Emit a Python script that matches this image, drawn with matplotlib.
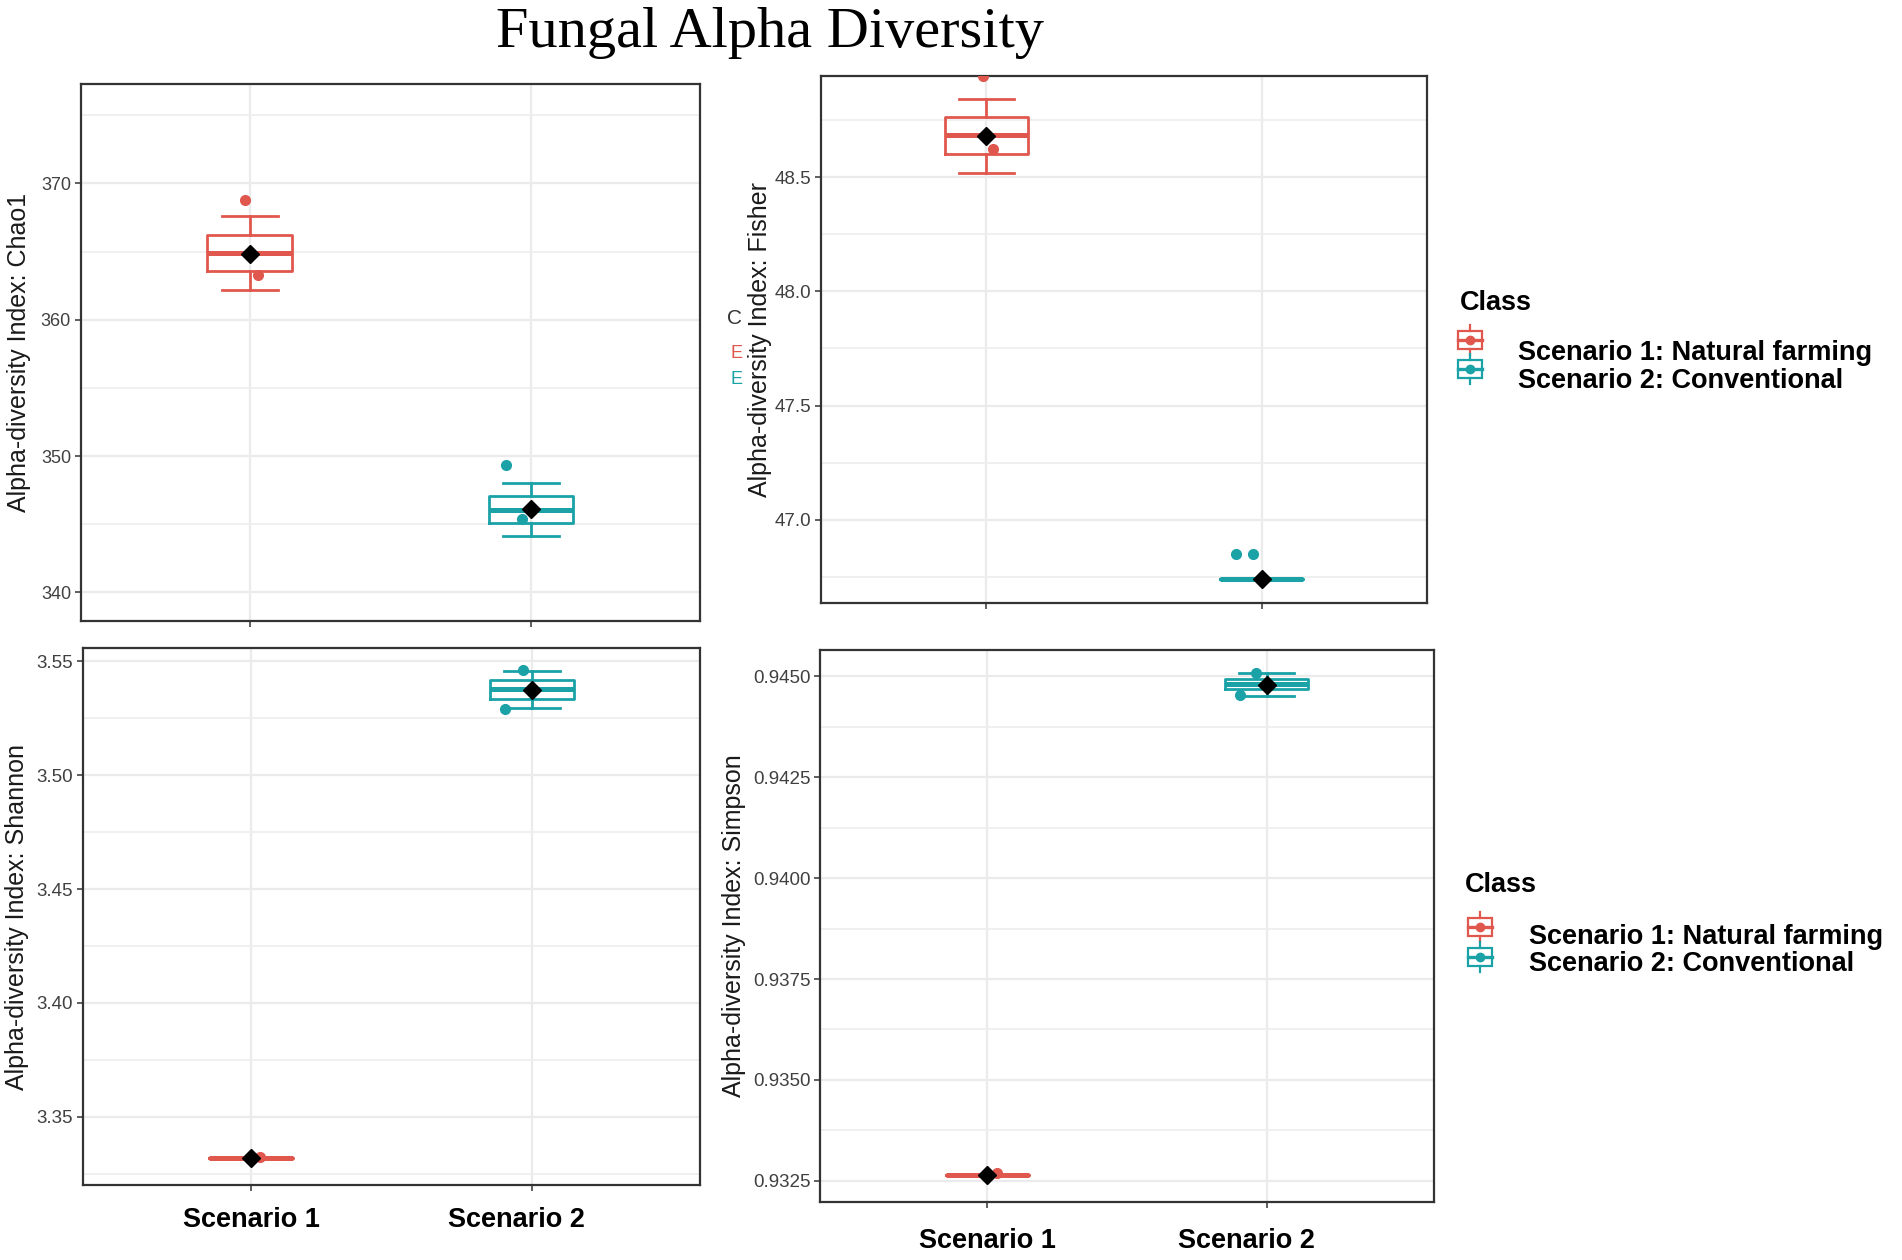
import numpy as np
import matplotlib
matplotlib.use('Agg')
from matplotlib import pyplot as plt
from matplotlib.lines import Line2D
from matplotlib.patches import Rectangle
from matplotlib.ticker import FormatStrFormatter
from matplotlib.transforms import ScaledTranslation

W, H = 1902, 1260

categories = ['Scenario 1', 'Scenario 2']
class_labels = ['Scenario 1: Natural farming', 'Scenario 2: Conventional']
colors = ['#E0574E', '#1AA2A7']

# box stats per class: [whislo, q1, median, q3, whishi]
chao1_box = [[362.15, 363.55, 364.9, 366.2, 367.59],
             [344.12, 345.1, 346.03, 347.06, 348.04]]
chao1_mean = [364.85, 346.08]
chao1_pts = [[368.77, 363.25], [349.35, 345.35]]
chao1_jit = [[-0.015, 0.03], [-0.091, -0.033]]

fisher_box = [[48.518, 48.601, 48.685, 48.762, 48.844],
              [46.738, 46.738, 46.738, 46.738, 46.738]]
fisher_mean = [48.681, 46.738]
fisher_pts = [[48.945, 48.624], [46.849, 46.849]]
fisher_jit = [[-0.013, 0.025], [-0.092, -0.032]]

shannon_box = [[3.3317, 3.3317, 3.3317, 3.3317, 3.3317],
               [3.5296, 3.5334, 3.5380, 3.5417, 3.5457]]
shannon_mean = [3.3317, 3.5376]
shannon_pts = [[3.3321], [3.5461, 3.5293]]
shannon_jit = [[0.031], [-0.03, -0.094]]

simpson_box = [[0.93265, 0.93265, 0.93265, 0.93265, 0.93265],
               [0.944505, 0.944671, 0.944802, 0.944918, 0.945067]]
simpson_mean = [0.93265, 0.944777]
simpson_pts = [[0.93269], [0.945067, 0.94453]]
simpson_jit = [[0.035], [-0.038, -0.095]]

plt.rcParams['font.family'] = ['Liberation Sans', 'DejaVu Sans']

fig = plt.figure(figsize=(W / 100, H / 100), dpi=100)


def fx(x):
    return x / W


def fy(y):
    return 1 - y / H


def add_axes_px(left, top, right, bottom):
    return fig.add_axes([fx(left), fy(bottom), (right - left) / W, (bottom - top) / H])


def draw_panel(ax, box, means, pts, jit, ylim, major, minor, fmt, ylabel,
               label_x, tick_fs, show_x):
    for i in range(2):
        lo, q1, med, q3, hi = box[i]
        st = [dict(whislo=lo, q1=q1, med=med, q3=q3, whishi=hi, fliers=[])]
        lp = dict(color=colors[i], lw=2.0)
        ax.bxp(st, positions=[i + 1], widths=0.3, capwidths=[0.2], showfliers=False,
               boxprops=lp, whiskerprops=lp, capprops=lp,
               medianprops=dict(color=colors[i], lw=3.6), manage_ticks=False)
        xs = i + 1 + np.array(jit[i])
        ax.plot(xs, pts[i], 'o', color=colors[i], ms=7, zorder=3)
        ax.plot(i + 1, means[i], 'D', color='black', ms=9.5, zorder=5)
    ax.set_xlim(0.4, 2.6)
    ax.set_ylim(*ylim)
    ax.set_xticks([1, 2])
    ax.set_yticks(major)
    ax.set_yticks(minor, minor=True)
    ax.yaxis.set_major_formatter(FormatStrFormatter(fmt))
    ax.set_axisbelow(True)
    ax.grid(which='major', color='#EBEBEB', lw=1.6)
    ax.grid(which='minor', axis='y', color='#EFEFEF', lw=1.3)
    for s in ax.spines.values():
        s.set_color('#333333')
        s.set_linewidth(1.6)
    ax.tick_params(which='major', direction='out', length=4, width=1.1, color='#333333',
                   labelsize=tick_fs, labelcolor='#404040', pad=3)
    ax.tick_params(which='minor', length=0)
    ax.set_ylabel(ylabel, fontsize=18, color='#1A1A1A')
    ax.yaxis.set_label_coords(label_x, 0.5)
    if show_x:
        ax.set_xticklabels(categories)
    else:
        ax.tick_params(axis='x', labelbottom=False)


ax1 = add_axes_px(80.8, 83.8, 700, 621)
draw_panel(ax1, chao1_box, chao1_mean, chao1_pts, chao1_jit, (337.9, 377.3),
           [340, 350, 360, 370], [345, 355, 365, 375], '%d',
           'Alpha-diversity Index: Chao1', -0.080, 13, False)

ax2 = add_axes_px(821, 75.7, 1427, 603)
draw_panel(ax2, fisher_box, fisher_mean, fisher_pts, fisher_jit, (46.635, 48.945),
           [47.0, 47.5, 48.0, 48.5], [46.75, 47.25, 47.75, 48.25, 48.75], '%.1f',
           'Alpha-diversity Index: Fisher', -0.081, 13.5, False)

ax3 = add_axes_px(83, 648, 700, 1185)
draw_panel(ax3, shannon_box, shannon_mean, shannon_pts, shannon_jit, (3.320, 3.5559),
           [3.35, 3.40, 3.45, 3.50, 3.55], [3.325, 3.375, 3.425, 3.475, 3.525], '%.2f',
           'Alpha-diversity Index: Shannon', -0.087, 13.5, True)

ax4 = add_axes_px(820, 650, 1434, 1202)
draw_panel(ax4, simpson_box, simpson_mean, simpson_pts, simpson_jit, (0.93198, 0.945644),
           [0.9325, 0.9350, 0.9375, 0.9400, 0.9425, 0.9450],
           [0.93375, 0.93625, 0.93875, 0.94125, 0.94375], '%.4f',
           'Alpha-diversity Index: Simpson', -0.12, 13.5, True)

for ax, pad, shift in [(ax3, 11.5, -15), (ax4, 15, -20)]:
    ax.tick_params(axis='x', labelsize=19.5, labelcolor='black', pad=pad)
    for lab in ax.get_xticklabels():
        lab.set_fontweight('bold')
    lab2 = ax.get_xticklabels()[1]
    lab2.set_transform(lab2.get_transform() + ScaledTranslation(shift / 100, 0, fig.dpi_scale_trans))

fig.text(fx(770), fy(33), 'Fungal Alpha Diversity', fontsize=42,
         family=['Liberation Serif', 'DejaVu Serif'], ha='center', va='center')


def draw_key(xc, yc, color):
    tr = fig.transFigure
    fig.add_artist(Rectangle((fx(xc - 12), fy(yc + 9)), 24 / W, 18 / H, fill=False,
                             edgecolor=color, lw=1.6, transform=tr))
    fig.add_artist(Line2D([fx(xc - 12), fx(xc + 12)], [fy(yc), fy(yc)], color=color, lw=2.4, transform=tr))
    fig.add_artist(Line2D([fx(xc), fx(xc)], [fy(yc - 15), fy(yc - 9)], color=color, lw=1.6, transform=tr))
    fig.add_artist(Line2D([fx(xc), fx(xc)], [fy(yc + 9), fy(yc + 15)], color=color, lw=1.6, transform=tr))
    fig.add_artist(Line2D([fx(xc)], [fy(yc)], marker='o', ms=6, color=color, transform=tr))


def draw_legend(xt, yt, xk, yks, xl, yls):
    fig.text(fx(xt), fy(yt), 'Class', fontsize=19.5, weight='bold', va='center')
    for c, yk, yl, lab in zip(colors, yks, yls, class_labels):
        draw_key(xk, yk, c)
        fig.text(fx(xl), fy(yl), lab, fontsize=19.5, weight='bold', va='center')


draw_legend(1460, 303, 1470, [340, 369], 1518, [353, 381])
draw_legend(1465, 885, 1480, [927, 957], 1529, [937, 964])

# clipped remnants of a hidden legend behind the Fisher panel
fig.text(fx(727), fy(319), 'C', fontsize=15, color='#333333', va='center')
fig.text(fx(730), fy(353), 'E', fontsize=13, color=colors[0], va='center')
fig.text(fx(730), fy(379), 'E', fontsize=13, color=colors[1], va='center')

fig.savefig('out.png', dpi=100)
